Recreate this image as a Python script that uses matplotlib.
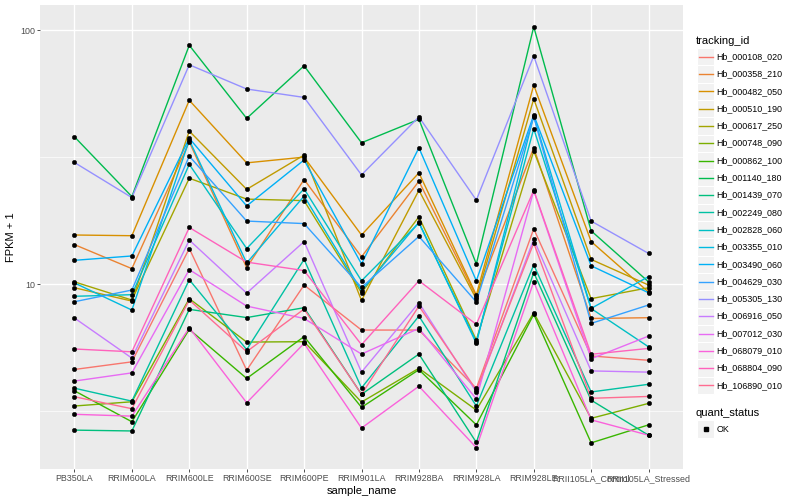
import matplotlib
matplotlib.use("Agg")
import matplotlib.pyplot as plt
from matplotlib.patches import Rectangle

samples = ["PB350LA", "RRIM600LA", "RRIM600LE", "RRIM600SE", "RRIM600PE",
           "RRIM901LA", "RRIM928BA", "RRIM928LA", "RRIM928LE",
           "RRII105LA_Control", "RRII105LA_Stressed"]

tracking_ids = ["Hb_000108_020", "Hb_000358_210", "Hb_000482_050", "Hb_000510_190",
                "Hb_000617_250", "Hb_000748_090", "Hb_000862_100", "Hb_001140_180",
                "Hb_001439_070", "Hb_002249_080", "Hb_002828_060", "Hb_003355_010",
                "Hb_003490_060", "Hb_004629_030", "Hb_005305_130", "Hb_006916_050",
                "Hb_007012_030", "Hb_068079_010", "Hb_068804_090", "Hb_106890_010"]

colors = ["#F8766D", "#EA8331", "#D89000", "#C09B00", "#A3A500", "#7CAE00", "#39B600",
          "#00BB4E", "#00BF7D", "#00C1A3", "#00BFC4", "#00BAE0", "#00B0F6", "#35A2FF",
          "#9590FF", "#C77CFF", "#E76BF3", "#FA62DB", "#FF62BC", "#FF6C91"]

# FPKM + 1 per sample (order of `samples`)
Hb_000108_020 = [4.61, 4.94, 13.8, 4.58, 9.91, 6.59, 6.59, 3.88, 16.5, 5.21, 5.01]
Hb_000358_210 = [14.3, 11.5, 36.3, 11.6, 25.8, 12.8, 25.4, 8.92, 34.4, 7.32, 7.37]
Hb_000482_050 = [15.6, 15.5, 52.9, 30.0, 31.6, 15.6, 27.4, 9.05, 60.7, 14.7, 9.30]
Hb_000510_190 = [9.67, 8.57, 40.0, 23.6, 32.2, 8.62, 23.4, 8.73, 53.6, 12.5, 9.91]
Hb_000617_250 = [10.2, 8.65, 26.1, 21.6, 21.3, 9.24, 18.4, 6.02, 33.4, 8.76, 9.67]
Hb_000748_090 = [3.31, 3.44, 8.76, 5.91, 5.93, 3.43, 4.66, 3.19, 7.71, 2.96, 3.39]
Hb_000862_100 = [3.80, 2.87, 6.63, 4.25, 6.21, 3.27, 4.60, 2.79, 7.60, 2.37, 2.79]
Hb_001140_180 = [38.0, 22.1, 87.1, 44.9, 72.3, 36.0, 44.5, 12.0, 103.0, 16.2, 10.2]
Hb_001439_070 = [2.66, 2.64, 7.95, 7.38, 8.07, 3.68, 5.30, 2.38, 11.1, 3.49, 2.54]
Hb_002249_080 = [3.89, 3.46, 10.4, 5.52, 12.5, 3.90, 7.48, 3.31, 11.9, 3.76, 4.03]
Hb_002828_060 = [8.95, 9.08, 29.6, 13.8, 23.7, 10.3, 17.4, 5.93, 40.9, 8.01, 5.66]
Hb_003355_010 = [10.1, 7.90, 36.9, 12.1, 22.2, 9.41, 17.5, 5.84, 45.9, 8.02, 10.7]
Hb_003490_060 = [12.4, 12.9, 37.5, 20.3, 30.8, 12.0, 34.4, 10.3, 46.3, 11.8, 9.24]
Hb_004629_030 = [8.52, 9.47, 31.9, 17.7, 17.3, 9.70, 15.4, 8.50, 45.6, 7.00, 8.27]
Hb_005305_130 = [30.1, 21.9, 73.0, 58.6, 54.3, 26.9, 45.5, 21.4, 79.0, 17.7, 13.2]
Hb_006916_050 = [7.35, 5.11, 14.9, 9.21, 14.7, 4.50, 8.44, 3.76, 15.0, 4.55, 4.50]
Hb_007012_030 = [4.15, 4.47, 11.4, 8.19, 7.32, 5.30, 6.69, 3.53, 23.3, 5.08, 6.24]
Hb_068079_010 = [3.07, 3.02, 6.73, 3.41, 5.84, 2.71, 3.96, 2.27, 10.2, 2.92, 2.54]
Hb_068804_090 = [5.55, 5.41, 16.7, 12.2, 11.3, 5.77, 10.3, 6.94, 23.4, 5.29, 5.58]
Hb_106890_010 = [3.60, 3.23, 8.65, 5.42, 7.97, 3.68, 8.19, 3.83, 14.5, 3.55, 3.61]

series = [Hb_000108_020, Hb_000358_210, Hb_000482_050, Hb_000510_190, Hb_000617_250,
          Hb_000748_090, Hb_000862_100, Hb_001140_180, Hb_001439_070, Hb_002249_080,
          Hb_002828_060, Hb_003355_010, Hb_003490_060, Hb_004629_030, Hb_005305_130,
          Hb_006916_050, Hb_007012_030, Hb_068079_010, Hb_068804_090, Hb_106890_010]

quant_status = ["OK"]

plt.rcParams['font.family'] = ['Liberation Sans', 'DejaVu Sans']

W, H = 800, 500
fig = plt.figure(figsize=(8, 5), dpi=100)
fig.patch.set_facecolor("white")

L, R, T, B = 40, 683, 5, 469
ax = fig.add_axes([L / W, 1 - B / H, (R - L) / W, (B - T) / H])
ax.set_facecolor("#EBEBEB")
ax.set_yscale("log")
x = list(range(len(samples)))

for vals, col in zip(series, colors):
    ax.plot(x, vals, color=col, lw=1.0, zorder=3, solid_capstyle="butt")
for vals in series:
    ax.plot(x, vals, linestyle="none", marker="o", ms=3.2, mfc="black", mec="black",
            mew=0.3, zorder=4)

ax.set_xlim(-0.6, len(samples) - 1 + 0.6)
ax.set_ylim(1.87, 125.5)
ax.set_xticks(x)
ax.set_xticklabels(samples)
ax.set_yticks([10, 100])
ax.set_yticklabels(["10", "100"])
ax.set_yticks([10 ** 0.5, 10 ** 1.5], minor=True)
ax.yaxis.set_minor_formatter(plt.NullFormatter())
ax.xaxis.set_minor_locator(plt.NullLocator())

ax.grid(True, which="major", color="white", lw=1.0, zorder=0)
ax.grid(True, which="minor", axis="y", color="white", lw=0.5, zorder=0)
ax.set_axisbelow(True)
for s in ax.spines.values():
    s.set_visible(False)
ax.tick_params(axis="both", which="major", length=2.0, width=0.6, color="#333333",
               labelsize=6.4, labelcolor="#4D4D4D", pad=1.6)
ax.tick_params(axis="y", which="minor", length=0)

ax.set_xlabel("sample_name", fontsize=8.0, color="black", labelpad=2)
ax.set_ylabel("FPKM + 1", fontsize=8.0, color="black")
ax.yaxis.set_label_coords((16 - L) / (R - L), 0.5)

# legend drawn in pixel coordinates
lax = fig.add_axes([0, 0, 1, 1])
lax.set_xlim(0, W)
lax.set_ylim(H, 0)
lax.axis("off")

lax.text(696, 40.5, "tracking_id", fontsize=8.0, va="center", ha="left", color="black")
step = 17.3
y0 = 56.7
for i, (tid, col) in enumerate(zip(tracking_ids, colors)):
    yc = y0 + i * step
    lax.add_patch(Rectangle((697, yc - step / 2), step, step, facecolor="#F2F2F2",
                            edgecolor="white", lw=0.8))
    lax.plot([698.5, 712.8], [yc, yc], color=col, lw=1.0)
    lax.text(716.5, yc, tid, fontsize=6.4, va="center", ha="left", color="black")

lax.text(696, 412.5, "quant_status", fontsize=8.0, va="center", ha="left", color="black")
yc = 429
for q in quant_status:
    lax.add_patch(Rectangle((697, yc - step / 2), step, step, facecolor="#F2F2F2",
                            edgecolor="white", lw=0.8))
    lax.plot([705.6], [yc], marker="s", ms=2.6, color="black")
    lax.text(716.5, yc, q, fontsize=6.4, va="center", ha="left", color="black")

fig.savefig("out.png", dpi=100)
